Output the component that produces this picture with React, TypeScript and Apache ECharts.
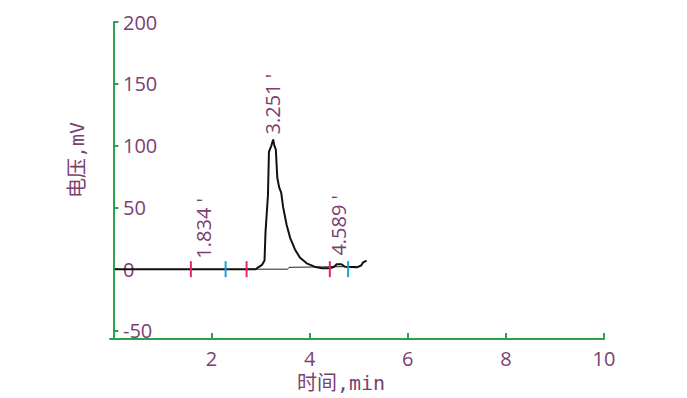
import React, { useEffect, useRef } from "react";
import * as echarts from "echarts";

// Chromatogram signal (time in min, voltage in mV)
const signalTime = [0.03, 0.5, 1.0, 1.5, 2.0, 2.5, 2.9, 2.95, 3.03, 3.08, 3.1, 3.12, 3.15, 3.17, 3.22, 3.256, 3.28, 3.31, 3.34, 3.38, 3.42, 3.46, 3.53, 3.6, 3.7, 3.8, 3.94, 4.1, 4.25, 4.41, 4.5, 4.55, 4.65, 4.72, 4.85, 4.96, 5.05, 5.09, 5.16];
const signalValue = [0, 0, 0, 0, 0, 0, 0, 1.5, 3.5, 7, 30, 42, 60, 95, 100, 105, 100, 97, 74, 66, 62, 50, 36, 25.6, 16, 9.5, 4.7, 2, 0.8, 0.8, 2, 4, 4, 2, 1.8, 1.5, 3, 5.5, 7];

// Integration baseline
const baselineTime = [2.71, 3.55, 3.58, 4.95];
const baselineValue = [0, 0, 1.5, 2.2];

// Peak start/end markers
const pinkMarks = [1.579, 2.714, 4.411];
const blueMarks = [2.286, 4.784];

// Peak retention-time labels
const peakTimes = [1.834, 3.251, 4.589];
const peakLabelY = [8.5, 109, 11];
const peakLabels = ["1.834 '", "3.251 '", "4.589 '"];

const xTicks = [2, 4, 6, 8, 10];
const yTicks = [-50, 0, 50, 100, 150, 200];

const GREEN = "#2ca24a";
const PURPLE = "#7b3f72";
const FONT = "'Open Sans', sans-serif";
const NAME_FONT = "'DejaVu Sans Mono', 'Noto Sans CJK SC', monospace";

export default function App() {
  const ref = useRef<HTMLDivElement>(null);
  useEffect(() => {
    document.body.style.margin = "0";
    const chart = echarts.init(ref.current!, undefined, { renderer: "svg" });
    chart.setOption({
      animation: false,
      backgroundColor: "#ffffff",
      grid: { left: 110, right: 83, top: 22, bottom: 59 },
      xAxis: {
        type: "value",
        min: -0.07,
        max: 10,
        splitLine: { show: false },
        axisLine: { onZero: false, lineStyle: { color: GREEN, width: 2 } },
        axisTick: { inside: true, length: 6, lineStyle: { color: GREEN, width: 2 }, customValues: xTicks },
        axisLabel: { color: PURPLE, fontSize: 20, fontFamily: FONT, margin: 9, customValues: xTicks },
      },
      yAxis: {
        type: "value",
        min: -56.5,
        max: 200,
        splitLine: { show: false },
        axisLine: { show: true, lineStyle: { color: GREEN, width: 2 } },
        axisTick: { show: true, inside: true, length: 5, lineStyle: { color: GREEN, width: 2 }, customValues: yTicks },
        axisLabel: { inside: true, color: PURPLE, fontSize: 20, fontFamily: FONT, margin: 13, customValues: yTicks },
      },
      graphic: [
        {
          type: "text",
          x: 77,
          y: 160,
          rotation: Math.PI / 2,
          style: {
            text: "电压,mV",
            fill: PURPLE,
            fontSize: 20,
            fontFamily: NAME_FONT,
            align: "center",
            verticalAlign: "middle",
          },
        },
        {
          type: "text",
          x: 341,
          y: 383,
          style: {
            text: "时间,min",
            fill: PURPLE,
            fontSize: 20,
            fontFamily: NAME_FONT,
            align: "center",
            verticalAlign: "middle",
          },
        },
      ],
      series: [
        {
          type: "line",
          data: signalTime.map((t, i) => [t, signalValue[i]]),
          showSymbol: false,
          lineStyle: { color: "#111111", width: 2 },
          z: 3,
        },
        {
          type: "line",
          data: baselineTime.map((t, i) => [t, baselineValue[i]]),
          showSymbol: false,
          lineStyle: { color: "#222222", width: 1 },
          z: 2,
        },
        {
          type: "scatter",
          data: pinkMarks.map((t) => [t, 0]),
          symbol: "rect",
          symbolSize: [2, 16],
          itemStyle: { color: "#e8226e", opacity: 1 },
          z: 4,
        },
        {
          type: "scatter",
          data: blueMarks.map((t) => [t, 0]),
          symbol: "rect",
          symbolSize: [2, 16],
          itemStyle: { color: "#1b9fd9", opacity: 1 },
          z: 4,
        },
        {
          type: "scatter",
          data: peakTimes.map((t, i) => ({ value: [t, peakLabelY[i]], name: peakLabels[i] })),
          symbolSize: 0,
          itemStyle: { color: "#ffffff", opacity: 1 },
          label: {
            show: true,
            position: "inside",
            rotate: 90,
            align: "left",
            verticalAlign: "middle",
            formatter: (p: any) => p.name,
            color: PURPLE,
            opacity: 1,
            fontSize: 20,
            fontFamily: FONT,
          },
          z: 5,
        },
      ],
    });
    return () => chart.dispose();
  }, []);
  return <div ref={ref} style={{ width: 687, height: 398 }} />;
}
